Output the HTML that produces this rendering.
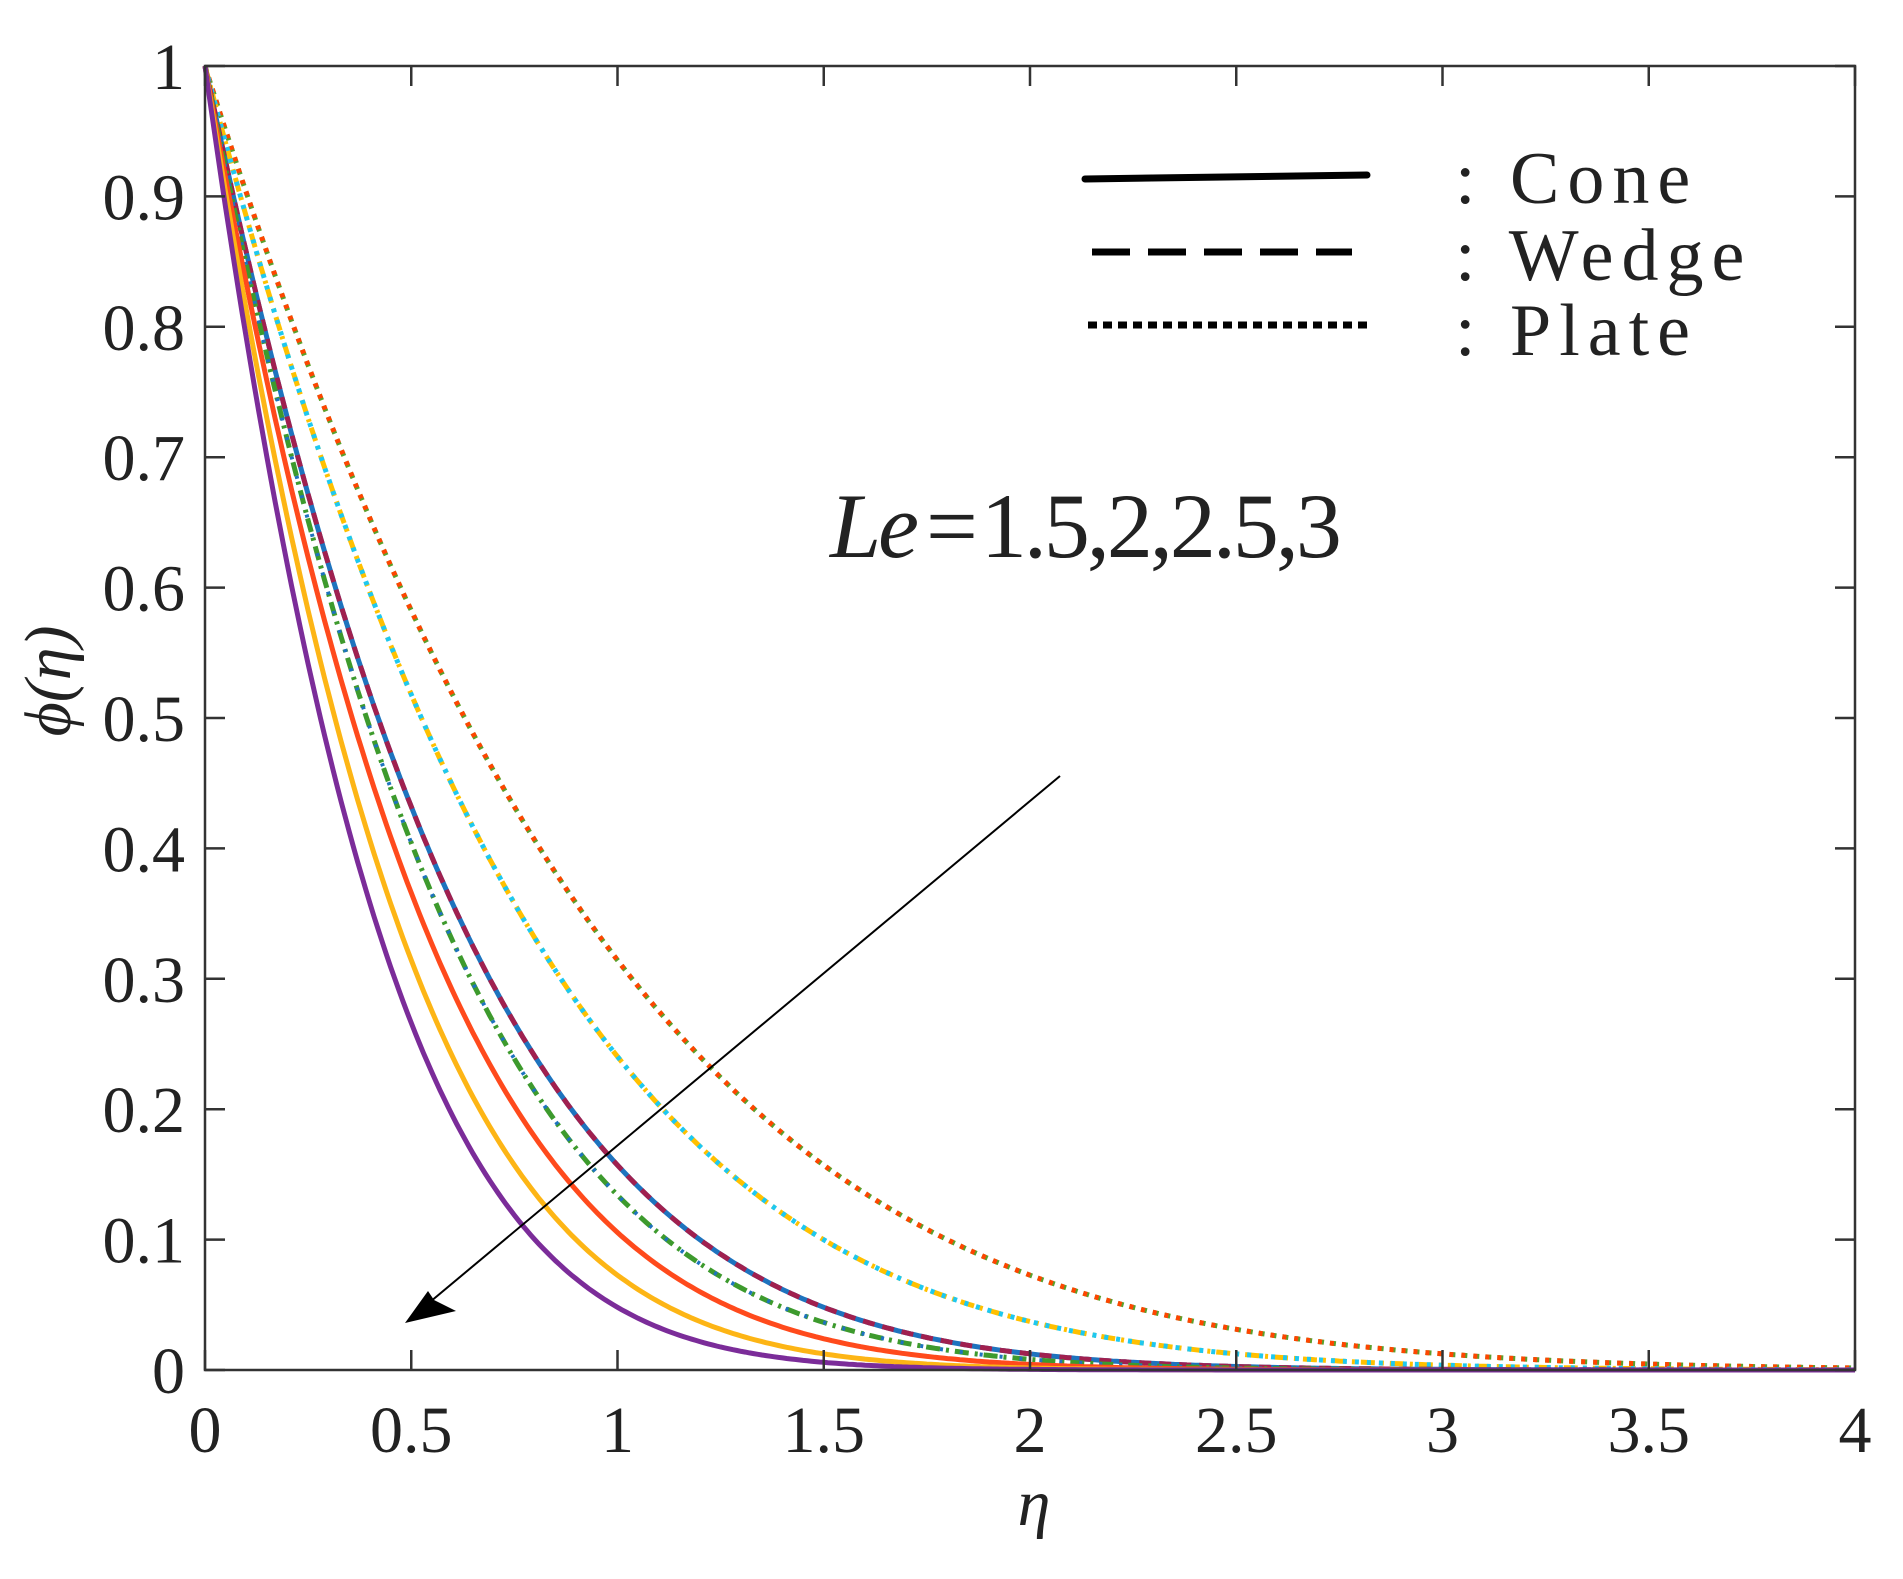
<!DOCTYPE html>
<html><head><meta charset="utf-8"><style>
html,body{margin:0;padding:0;background:#fff;}
svg{display:block;}
text{font-family:"Liberation Serif",serif;fill:#222;}
</style></head><body>
<svg id="s" width="1903" height="1579" viewBox="0 0 1903 1579" xmlns="http://www.w3.org/2000/svg">
<rect width="1903" height="1579" fill="#fff"/>
<g id="curves"></g>
<g id="axes" stroke="#333" stroke-width="2.5" fill="none">
<rect x="205" y="66" width="1650" height="1304"/>
</g>
<g id="ticks" stroke="#333" stroke-width="2.5"></g>
<g id="labels" font-size="66"></g>
<text x="55" y="681" font-size="66" font-style="italic" text-anchor="middle" transform="rotate(-90 55 681)" dominant-baseline="middle">ϕ(η)</text>
<text x="1034" y="1525" font-size="66" font-style="italic" text-anchor="middle">η</text>
<line x1="1085" y1="179" x2="1367" y2="175" stroke="#000" stroke-width="7" stroke-linecap="round"/>
<line x1="1092" y1="252" x2="1352" y2="252" stroke="#000" stroke-width="7" stroke-dasharray="38,18"/>
<line x1="1088" y1="325" x2="1367" y2="325" stroke="#000" stroke-width="7" stroke-dasharray="9,6"/>
<text x="1455" y="203" font-size="74" letter-spacing="8">: Cone</text>
<text x="1455" y="280" font-size="74" letter-spacing="8">: Wedge</text>
<text x="1455" y="355" font-size="74" letter-spacing="8">: Plate</text>
<text x="830" y="557" font-size="92" letter-spacing="-3"><tspan font-style="italic">Le</tspan><tspan dx="10">=</tspan><tspan dx="6">1.5,2,2.5,3</tspan></text>
<line x1="1060" y1="776" x2="430" y2="1302" stroke="#000" stroke-width="2"/>
<polygon points="405,1323 428,1291 434,1300 456,1311" fill="#000"/>
</svg>
<script>
var X=function(e){return 205+e*412.5;},Y=function(p){return 1370-p*1304;};
function f(e){return Math.exp(-2.26*e-0.775*e*e);}
function path(s){var d="";for(var i=0;i<=400;i++){var e=i*0.01;d+=(i?"L":"M")+X(e).toFixed(1)+","+Y(f(e/s)).toFixed(1);}return d;}
var series=[
[2.25,"#5AA02C","5","6,6"],[2.25,"#FF4500","5","4,8"],
[1.875,"#FFC000","5","14,6,3,6"],[1.875,"#1EC8F0","5","4,8"],
[1.5,"#1E73BE","5",""],[1.5,"#A0204F","5","12,8"],
[1.4,"#3D9A2D","5","14,6,3,6"],[1.4,"#1E73BE","4","3,17"],
[1.275,"#FF4A1C","5",""],[1.125,"#FDB515","5",""],[1,"#7B2C99","5",""]];
var g=document.getElementById("curves"),h="";
series.forEach(function(s){h+='<path d="'+path(s[0])+'" fill="none" stroke="'+s[1]+'" stroke-width="'+s[2]+'"'+(s[3]?' stroke-dasharray="'+s[3]+'"':'')+'/>';});
g.innerHTML=h;
var t="",l="";
for(var i=0;i<=8;i++){var x=X(i*0.5);t+='<line x1="'+x+'" y1="1370" x2="'+x+'" y2="1350"/><line x1="'+x+'" y1="66" x2="'+x+'" y2="86"/>';
l+='<text x="'+x+'" y="1452" text-anchor="middle">'+(i*0.5)+'</text>';}
for(var j=0;j<=10;j++){var y=Y(j/10);t+='<line x1="205" y1="'+y+'" x2="225" y2="'+y+'"/><line x1="1855" y1="'+y+'" x2="1835" y2="'+y+'"/>';
l+='<text x="185" y="'+(y+23)+'" text-anchor="end">'+(j==10?"1":j==0?"0":(j/10).toFixed(1))+'</text>';}
document.getElementById("ticks").innerHTML=t;
document.getElementById("labels").innerHTML=l;
</script>
</body></html>
